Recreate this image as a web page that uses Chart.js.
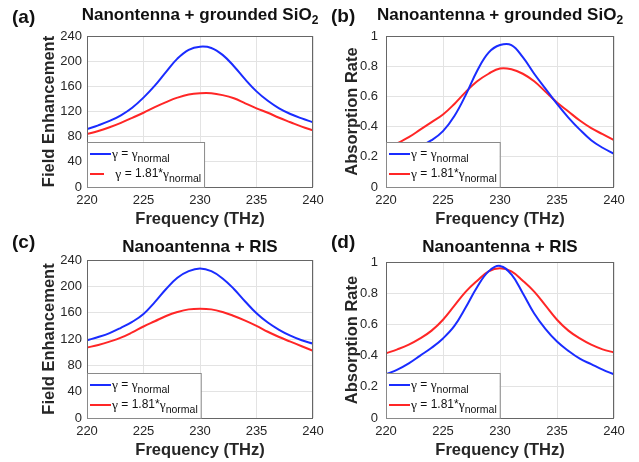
<!DOCTYPE html>
<html>
<head>
<meta charset="utf-8">
<script src="https://cdn.jsdelivr.net/npm/chart.js@4.4.1/dist/chart.umd.min.js"></script>
<style>
  html, body { margin: 0; padding: 0; background: #fff; }
  #figure { position: relative; width: 639px; height: 462px; overflow: hidden; }
  #figure canvas { position: absolute; }
</style>
</head>
<body>
<div id="figure">
  <canvas id="panel-a" width="332" height="231" style="left:0;top:0"></canvas>
  <canvas id="panel-b" width="320" height="231" style="left:319px;top:0"></canvas>
  <canvas id="panel-c" width="332" height="231" style="left:0;top:231px"></canvas>
  <canvas id="panel-d" width="320" height="231" style="left:319px;top:231px"></canvas>
</div>
<script>
// Frequency samples (THz) shared by every panel
const frequency = [220, 221, 222, 223, 224, 225, 226, 227, 228, 229, 230,
  231, 232, 233, 234, 235, 236, 237, 238, 239, 240];

// (a) Nanoantenna + grounded SiO2, field enhancement
const fieldNormalA = [92, 98, 105, 114, 126, 142, 161, 183, 204, 218, 223,
  221, 210, 192, 171, 152, 137, 125, 116, 109, 103];
const fieldWideA = [84, 89, 95, 102, 110, 118, 127, 135, 142, 147, 149,
  149, 146, 141, 133, 125, 118, 110, 103, 96, 90];

// (b) Nanoantenna + grounded SiO2, absorption rate
const absNormalB = [0.19, 0.21, 0.24, 0.27, 0.31, 0.37, 0.47, 0.61, 0.77, 0.89, 0.94,
  0.94, 0.86, 0.75, 0.65, 0.55, 0.46, 0.38, 0.31, 0.26, 0.22];
const absWideB = [0.25, 0.29, 0.33, 0.38, 0.43, 0.48, 0.55, 0.63, 0.70, 0.75, 0.785,
  0.78, 0.75, 0.70, 0.63, 0.56, 0.50, 0.44, 0.39, 0.35, 0.31];

// (c) Nanoantenna + RIS, field enhancement
const fieldNormalC = [118, 123, 129, 137, 146, 158, 176, 196, 213, 223, 227,
  223, 212, 196, 177, 159, 145, 134, 125, 118, 113];
const fieldWideC = [107, 111, 116, 122, 130, 139, 147, 155, 161, 165, 166,
  165, 161, 155, 148, 140, 131, 123, 116, 109, 102];

// (d) Nanoantenna + RIS, absorption rate
const absNormalD = [0.28, 0.31, 0.35, 0.40, 0.45, 0.51, 0.59, 0.71, 0.84, 0.94, 0.975,
  0.92, 0.80, 0.67, 0.57, 0.49, 0.43, 0.38, 0.345, 0.31, 0.28];
const absWideD = [0.415, 0.44, 0.47, 0.51, 0.56, 0.63, 0.72, 0.81, 0.88, 0.94, 0.96,
  0.94, 0.88, 0.81, 0.72, 0.63, 0.56, 0.51, 0.47, 0.44, 0.42];

// Tick labels
const freqTicks = [220, 225, 230, 235, 240];
const fieldTicks = [0, 40, 80, 120, 160, 200, 240];
const absTicks = [0, 0.2, 0.4, 0.6, 0.8, 1];

const BLUE = "#1a2cff";
const RED = "#ff2626";
const TEXT = "#262626";
const FONT = '"Liberation Sans", Arial, sans-serif';
const SERIF = '"Liberation Serif", "Times New Roman", serif';

// Draws text pieces in sequence; pieces with dy are smaller and lowered.
function drawPieces(ctx, pieces, x, y, measureOnly) {
  let cx = x;
  pieces.forEach((p) => {
    ctx.font = p.font;
    if (!measureOnly) ctx.fillText(p.text, cx, y + (p.dy || 0));
    cx += ctx.measureText(p.text).width;
  });
  return cx - x;
}

const panelDecor = {
  id: "panelDecor",
  afterDatasetsDraw(chart, args, opts) {
    const { ctx, chartArea } = chart;
    const { left, top, right, bottom } = chartArea;
    ctx.save();

    // axes box
    ctx.strokeStyle = "#666666";
    ctx.lineWidth = 1;
    ctx.strokeRect(left + 0.5, top + 0.5, right - left - 1, bottom - top);

    // legend with subscripts
    const rows = [
      { color: BLUE, lead: "", text: " = ", indent: 0 },
      { color: RED, lead: opts.wideLead || "", text: " = 1.81*", indent: opts.wideIndent || 0 }
    ];
    const textX = left + 25;
    const pieceSets = rows.map((r) => [
      { text: r.lead, font: `12px ${FONT}` },
      { text: "\u03b3", font: `13.5px ${SERIF}` },
      { text: r.text, font: `12px ${FONT}` },
      { text: "\u03b3", font: `13.5px ${SERIF}` },
      { text: "normal", font: `10.5px ${FONT}`, dy: 5 }
    ]);
    const widest = Math.max(...pieceSets.map((p) => drawPieces(ctx, p, 0, 0, true)));
    const boxW = textX - left + widest + 3;
    const boxH = 45;
    const boxTop = bottom - boxH;
    ctx.fillStyle = "#ffffff";
    ctx.fillRect(left, boxTop, boxW, boxH);
    ctx.strokeStyle = "#8a8a8a";
    ctx.strokeRect(left + 0.5, boxTop + 0.5, boxW, boxH);

    rows.forEach((r, i) => {
      const y = boxTop + 12 + i * 20;
      ctx.strokeStyle = r.color;
      ctx.lineWidth = 2;
      ctx.beginPath();
      ctx.moveTo(left + 3, y);
      ctx.lineTo(textX - 1 - r.indent, y);
      ctx.stroke();
      ctx.fillStyle = "#111";
      ctx.textBaseline = "middle";
      ctx.textAlign = "left";
      drawPieces(ctx, pieceSets[i], textX, y, false);
    });
    ctx.restore();
  },
  afterDraw(chart, args, opts) {
    const { ctx, chartArea } = chart;
    ctx.save();
    ctx.fillStyle = "#111";
    ctx.textBaseline = "alphabetic";
    ctx.textAlign = "left";

    // panel letter
    ctx.font = `bold 19px ${FONT}`;
    ctx.fillText(opts.label, 12, opts.labelY);

    // title, with optional subscript
    const pieces = [{ text: opts.title, font: `bold 17px ${FONT}` }];
    if (opts.titleSub) pieces.push({ text: opts.titleSub, font: `bold 12px ${FONT}`, dy: 4 });
    const w = drawPieces(ctx, pieces, 0, 0, true);
    const cx = (chartArea.left + chartArea.right) / 2;
    drawPieces(ctx, pieces, cx - w / 2, opts.titleY, false);
    ctx.restore();
  }
};

// Labels may run past the plot edges, so the scales keep no extra padding.
function noScalePadding(s) {
  s.paddingLeft = 0;
  s.paddingRight = 0;
  s.paddingTop = 0;
  s.paddingBottom = 0;
}

function makePanel(id, cfg) {
  const toPoints = (values) => values.map((v, i) => ({ x: frequency[i], y: v }));
  const lineStyle = { borderWidth: 2, pointRadius: 0, tension: 0.4 };
  return new Chart(document.getElementById(id), {
    type: "line",
    data: {
      datasets: [
        { data: toPoints(cfg.normal), borderColor: BLUE, ...lineStyle },
        { data: toPoints(cfg.wide), borderColor: RED, ...lineStyle }
      ]
    },
    options: {
      responsive: false,
      animation: false,
      devicePixelRatio: 1,
      layout: { padding: { left: 0, right: cfg.padRight, top: cfg.padTop, bottom: 0 } },
      plugins: {
        legend: { display: false },
        tooltip: { enabled: false },
        panelDecor: {
          label: cfg.label,
          labelY: cfg.labelY,
          title: cfg.title,
          titleSub: cfg.titleSub,
          titleY: cfg.titleY,
          wideLead: cfg.wideLead,
          wideIndent: cfg.wideIndent
        }
      },
      scales: {
        x: {
          type: "linear",
          min: 220,
          max: 240,
          afterBuildTicks: (axis) => { axis.ticks = freqTicks.map((v) => ({ value: v })); },
          afterFit: (s) => { s.height = 44; noScalePadding(s); },
          ticks: { color: TEXT, font: { family: FONT, size: 13 }, padding: 6, maxRotation: 0 },
          grid: { color: "#e3e3e3", drawTicks: false },
          border: { display: false },
          title: {
            display: true,
            text: "Frequency (THz)",
            color: TEXT,
            font: { family: FONT, size: 16.5, weight: "bold" },
            padding: { top: 0, bottom: 2 }
          }
        },
        y: {
          min: 0,
          max: cfg.yMax,
          afterBuildTicks: (axis) => { axis.ticks = cfg.yTicks.map((v) => ({ value: v })); },
          afterFit: (s) => { s.width = cfg.yWidth; noScalePadding(s); },
          ticks: {
            color: TEXT,
            font: { family: FONT, size: 13 },
            padding: cfg.yTickPad,
            callback: (v) => String(Math.round(v * 10) / 10)
          },
          grid: { color: "#e3e3e3", drawTicks: false },
          border: { display: false },
          title: {
            display: true,
            text: cfg.yTitle,
            color: TEXT,
            font: { family: FONT, size: 16.5, weight: "bold" },
            padding: { top: cfg.yTitlePad, bottom: 0 }
          }
        }
      }
    },
    plugins: [panelDecor]
  });
}

makePanel("panel-a", {
  normal: fieldNormalA, wide: fieldWideA, yMax: 240, yTicks: fieldTicks,
  yTitle: "Field Enhancement", yWidth: 87, yTickPad: 5, yTitlePad: 40,
  padRight: 19, padTop: 36, label: "(a)", labelY: 23,
  title: "Nanontenna + grounded SiO", titleSub: "2", titleY: 20,
  wideLead: " ", wideIndent: 7
});
makePanel("panel-b", {
  normal: absNormalB, wide: absWideB, yMax: 1, yTicks: absTicks,
  yTitle: "Absorption Rate", yWidth: 67, yTickPad: 8, yTitlePad: 24,
  padRight: 25, padTop: 36, label: "(b)", labelY: 22,
  title: "Nanoantenna + grounded SiO", titleSub: "2", titleY: 20
});
makePanel("panel-c", {
  normal: fieldNormalC, wide: fieldWideC, yMax: 240, yTicks: fieldTicks,
  yTitle: "Field Enhancement", yWidth: 87, yTickPad: 5, yTitlePad: 40,
  padRight: 19, padTop: 29, label: "(c)", labelY: 17,
  title: "Nanoantenna + RIS", titleY: 21
});
makePanel("panel-d", {
  normal: absNormalD, wide: absWideD, yMax: 1, yTicks: absTicks,
  yTitle: "Absorption Rate", yWidth: 67, yTickPad: 8, yTitlePad: 24,
  padRight: 25, padTop: 31, label: "(d)", labelY: 17,
  title: "Nanoantenna + RIS", titleY: 21
});
</script>
</body>
</html>
